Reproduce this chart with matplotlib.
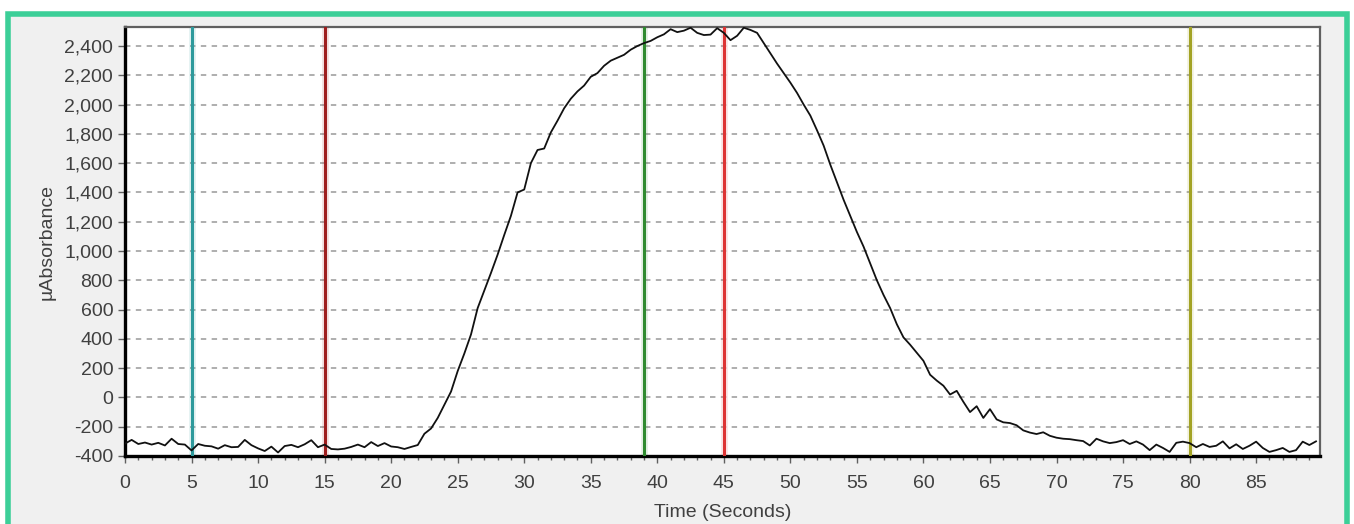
import matplotlib.pyplot as plt
import numpy as np
from matplotlib.patches import Rectangle
from matplotlib.ticker import MultipleLocator, FuncFormatter

plt.rcParams['font.family'] = ['Liberation Sans', 'DejaVu Sans']

# sample spacing of the trace (seconds)
step_s = 0.5

# µAbsorbance, one value every 0.5 s starting at t = 0
absorbance = [
    -315, -290, -318, -308, -322, -310, -328, -282, -318, -322,   # 0 - 4.5
    -362, -318, -330, -334, -350, -326, -340, -338, -290, -326,   # 5 - 9.5
    -348, -366, -336, -376, -332, -324, -340, -320, -292, -340,   # 10 - 14.5
    -322, -352, -355, -350, -338, -322, -340, -305, -332, -312,   # 15 - 19.5
    -335, -340, -352, -338, -325, -248, -212, -140, -50, 40,      # 20 - 24.5
    180, 300, 430, 610, 730, 850, 975, 1110, 1240, 1400,          # 25 - 29.5
    1420, 1600, 1690, 1700, 1810, 1890, 1975, 2040, 2090, 2130,   # 30 - 34.5
    2190, 2215, 2265, 2300, 2320, 2340, 2375, 2400, 2420, 2435,   # 35 - 39.5
    2460, 2480, 2515, 2495, 2505, 2525, 2490, 2475, 2478, 2522,   # 40 - 44.5
    2490, 2440, 2470, 2525, 2510, 2490, 2420, 2350, 2280, 2215,   # 45 - 49.5
    2150, 2080, 2000, 1925, 1825, 1720, 1590, 1470, 1350, 1240,   # 50 - 54.5
    1130, 1030, 915, 800, 700, 610, 500, 410, 360, 305,           # 55 - 59.5
    250, 155, 115, 80, 20, 45, -30, -100, -60, -140,              # 60 - 64.5
    -80, -150, -170, -175, -190, -225, -240, -250, -238, -262,    # 65 - 69.5
    -275, -282, -285, -292, -298, -328, -282, -300, -312, -305,   # 70 - 74.5
    -292, -318, -300, -322, -360, -322, -345, -372, -310, -302,   # 75 - 79.5
    -312, -340, -318, -338, -330, -300, -348, -320, -352, -330,   # 80 - 84.5
    -302, -345, -372, -360, -345, -372, -360, -302, -325, -300,   # 85 - 89.5
]
time_s = np.arange(len(absorbance)) * step_s

# event markers (seconds)
marker_times = [5, 15, 39, 45, 80]
marker_colors = ['#2e9a9c', '#9e1f1f', '#2f8a2f', '#dd3434', '#a3a325']

fig = plt.figure(figsize=(13.54, 5.24), dpi=100, facecolor='white')

# window background with the green frame
fig.patches.append(Rectangle((7.5 / 1354, -0.05), 1339.5 / 1354, 1.05 - 13.5 / 524,
                             transform=fig.transFigure, facecolor='#f0f0f0',
                             edgecolor='#3ccf98', linewidth=4.0, zorder=-10))

ax = fig.add_axes([125 / 1354, 68 / 524, 1195 / 1354, 429 / 524])
ax.set_facecolor('white')

for t, c in zip(marker_times, marker_colors):
    ax.axvline(t, color=c, alpha=0.12, linewidth=5, zorder=2)
    ax.axvline(t, color=c, linewidth=2.2, zorder=3)

ax.plot(time_s, absorbance, color='#111111', linewidth=1.3, zorder=4)

ax.set_xlim(0, 89.8)
ax.set_ylim(-400, 2530)
ax.xaxis.set_major_locator(MultipleLocator(5))
ax.xaxis.set_minor_locator(MultipleLocator(1))
ax.yaxis.set_major_locator(MultipleLocator(200))
ax.yaxis.set_major_formatter(FuncFormatter(lambda v, p: f'{int(v):,}'))

ax.grid(axis='y', color='#a8a8a8', linestyle=(0, (3, 3)), linewidth=1.3)
ax.set_axisbelow(True)

ax.tick_params(axis='both', which='major', labelsize=14, labelcolor='#404040',
               color='#606060', length=5, width=1)
ax.tick_params(axis='x', which='major', pad=9)
ax.tick_params(axis='x', which='minor', color='#606060', length=3, width=1)

for side in ('left', 'bottom'):
    ax.spines[side].set_color('black')
    ax.spines[side].set_linewidth(2.4)
for side in ('top', 'right'):
    ax.spines[side].set_color('#606060')
    ax.spines[side].set_linewidth(1.6)

ax.set_xlabel('Time (Seconds)', fontsize=14, color='#404040', labelpad=8)
ax.set_ylabel('µAbsorbance', fontsize=14, color='#404040', labelpad=6)

fig.savefig('out.png', dpi=100, facecolor=fig.get_facecolor())
